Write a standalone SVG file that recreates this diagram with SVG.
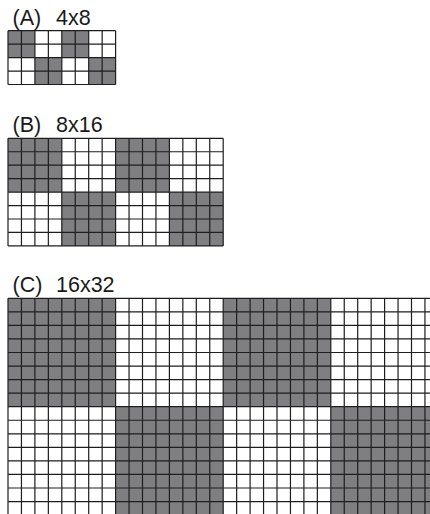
<svg xmlns="http://www.w3.org/2000/svg" width="430" height="514" viewBox="0 0 430 514">
<style>
.bg{fill:#ffffff}
.dark{fill:#7f7f82}
.grid{fill:none;stroke:#1e1e1e;stroke-width:1.2}
.lbl{font-family:"Liberation Sans",Arial,Helvetica,sans-serif;font-size:21.5px;fill:#1a1a1a}
</style>
<rect class="bg" x="0" y="0" width="430" height="514"/>
<g id="gridA">
<text class="lbl" x="12.5" y="24.5">(A)<tspan x="56">4x8</tspan></text>
<rect class="dark" x="8" y="30.7" width="26.9" height="26.9"/>
<rect class="dark" x="61.8" y="30.7" width="26.9" height="26.9"/>
<rect class="dark" x="34.9" y="57.6" width="26.9" height="26.9"/>
<rect class="dark" x="88.7" y="57.6" width="26.9" height="26.9"/>
<path class="grid" d="M8 30.7V84.5M21.45 30.7V84.5M34.9 30.7V84.5M48.35 30.7V84.5M61.8 30.7V84.5M75.25 30.7V84.5M88.7 30.7V84.5M102.15 30.7V84.5M115.6 30.7V84.5M8 30.7H115.6M8 44.15H115.6M8 57.6H115.6M8 71.05H115.6M8 84.5H115.6"/>
</g>
<g id="gridB">
<text class="lbl" x="12.5" y="132">(B)<tspan x="56">8x16</tspan></text>
<rect class="dark" x="8" y="138.3" width="53.8" height="53.8"/>
<rect class="dark" x="115.6" y="138.3" width="53.8" height="53.8"/>
<rect class="dark" x="61.8" y="192.1" width="53.8" height="53.8"/>
<rect class="dark" x="169.4" y="192.1" width="53.8" height="53.8"/>
<path class="grid" d="M8 138.3V245.9M21.45 138.3V245.9M34.9 138.3V245.9M48.35 138.3V245.9M61.8 138.3V245.9M75.25 138.3V245.9M88.7 138.3V245.9M102.15 138.3V245.9M115.6 138.3V245.9M129.05 138.3V245.9M142.5 138.3V245.9M155.95 138.3V245.9M169.4 138.3V245.9M182.85 138.3V245.9M196.3 138.3V245.9M209.75 138.3V245.9M223.2 138.3V245.9M8 138.3H223.2M8 151.75H223.2M8 165.2H223.2M8 178.65H223.2M8 192.1H223.2M8 205.55H223.2M8 219H223.2M8 232.45H223.2M8 245.9H223.2"/>
</g>
<g id="gridC">
<text class="lbl" x="12.5" y="292">(C)<tspan x="56">16x32</tspan></text>
<rect class="dark" x="8" y="298.3" width="107.6" height="108.4"/>
<rect class="dark" x="223.2" y="298.3" width="107.6" height="108.4"/>
<rect class="dark" x="115.6" y="406.7" width="107.6" height="108.4"/>
<rect class="dark" x="330.8" y="406.7" width="107.6" height="108.4"/>
<path class="grid" d="M8 298.3V515.1M21.45 298.3V515.1M34.9 298.3V515.1M48.35 298.3V515.1M61.8 298.3V515.1M75.25 298.3V515.1M88.7 298.3V515.1M102.15 298.3V515.1M115.6 298.3V515.1M129.05 298.3V515.1M142.5 298.3V515.1M155.95 298.3V515.1M169.4 298.3V515.1M182.85 298.3V515.1M196.3 298.3V515.1M209.75 298.3V515.1M223.2 298.3V515.1M236.65 298.3V515.1M250.1 298.3V515.1M263.55 298.3V515.1M277 298.3V515.1M290.45 298.3V515.1M303.9 298.3V515.1M317.35 298.3V515.1M330.8 298.3V515.1M344.25 298.3V515.1M357.7 298.3V515.1M371.15 298.3V515.1M384.6 298.3V515.1M398.05 298.3V515.1M411.5 298.3V515.1M424.95 298.3V515.1M438.4 298.3V515.1M8 298.3H438.4M8 311.85H438.4M8 325.4H438.4M8 338.95H438.4M8 352.5H438.4M8 366.05H438.4M8 379.6H438.4M8 393.15H438.4M8 406.7H438.4M8 420.25H438.4M8 433.8H438.4M8 447.35H438.4M8 460.9H438.4M8 474.45H438.4M8 488H438.4M8 501.55H438.4M8 515.1H438.4"/>
</g>
</svg>
